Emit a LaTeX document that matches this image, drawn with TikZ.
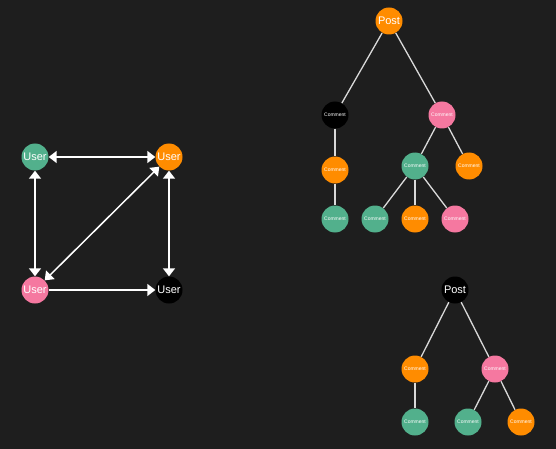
\documentclass[tikz,border=0pt]{standalone}
\usepackage{fontspec}
\setmainfont{Liberation Sans}
\usetikzlibrary{arrows.meta}

\definecolor{bg}{RGB}{30,30,30}
\definecolor{cgreen}{RGB}{82,176,140}
\definecolor{corange}{RGB}{255,140,0}
\definecolor{cpink}{RGB}{245,120,160}

\begin{document}
\begin{tikzpicture}[
  x=1pt, y=-1pt,
  user/.style={circle, minimum size=27pt, inner sep=0pt, text=white,
               font=\fontsize{11}{11}\selectfont},
  cmt/.style={circle, minimum size=27pt, inner sep=0pt, text=white,
              font=\fontsize{5}{5}\selectfont},
  arr/.style={{Triangle[length=8pt,width=12pt]}-{Triangle[length=8pt,width=12pt]},
              white, line width=1.5pt},
  arrone/.style={-{Triangle[length=8pt,width=12pt]}, white, line width=1.5pt},
  edge/.style={white!85!black, line width=1.3pt}
]
\fill[bg] (0,0) rectangle (556,449);

% users
\node[user, fill=cgreen] (ua) at (35,157) {User};
\node[user, fill=corange] (ub) at (169,157) {User};
\node[user, fill=cpink] (uc) at (35,290) {User};
\node[user, fill=black] (ud) at (169,290) {User};

\draw[arr] (ua) -- (ub);
\draw[arr] (ua) -- (uc);
\draw[arr] (ub) -- (ud);
\draw[arr] (uc) -- (ub);
\draw[arrone] (uc) -- (ud);

% first post
\node[user, fill=corange] (pa) at (389,21) {Post};
\node[cmt, fill=black] (ca) at (335,115) {Comment};
\node[cmt, fill=cpink] (cb) at (442,115) {Comment};
\node[cmt, fill=corange] (cc) at (335,170) {Comment};
\node[cmt, fill=cgreen] (cd) at (335,219) {Comment};
\node[cmt, fill=cgreen] (ce) at (415,166) {Comment};
\node[cmt, fill=corange] (cf) at (469,166) {Comment};
\node[cmt, fill=cgreen] (cg) at (375,219) {Comment};
\node[cmt, fill=corange] (ch) at (415,219) {Comment};
\node[cmt, fill=cpink] (ci) at (455,219) {Comment};

\draw[edge] (pa) -- (ca);
\draw[edge] (pa) -- (cb);
\draw[edge] (ca) -- (cc);
\draw[edge] (cc) -- (cd);
\draw[edge] (cb) -- (ce);
\draw[edge] (cb) -- (cf);
\draw[edge] (ce) -- (cg);
\draw[edge] (ce) -- (ch);
\draw[edge] (ce) -- (ci);

% second post
\node[user, fill=black] (pb) at (455,290) {Post};
\node[cmt, fill=corange] (da) at (415,369) {Comment};
\node[cmt, fill=cpink] (db) at (495,369) {Comment};
\node[cmt, fill=cgreen] (dc) at (415,422) {Comment};
\node[cmt, fill=cgreen] (dd) at (468,422) {Comment};
\node[cmt, fill=corange] (de) at (521,422) {Comment};

\draw[edge] (pb) -- (da);
\draw[edge] (pb) -- (db);
\draw[edge] (da) -- (dc);
\draw[edge] (db) -- (dd);
\draw[edge] (db) -- (de);
\end{tikzpicture}
\end{document}
